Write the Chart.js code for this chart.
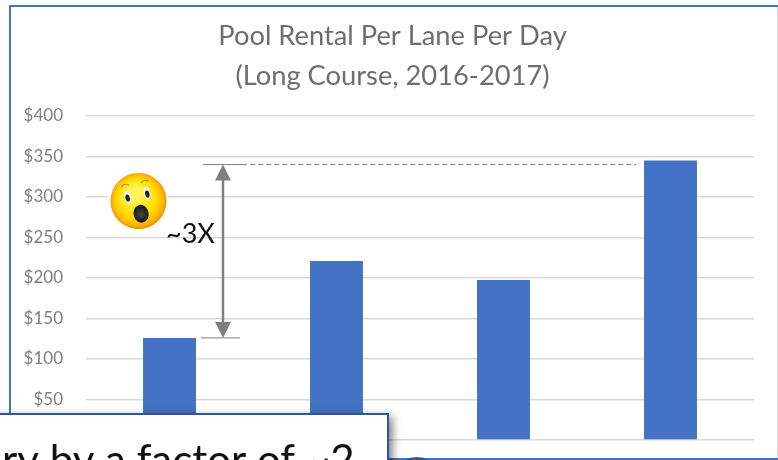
<!DOCTYPE html>
<html><head><meta charset="utf-8">
<style>html,body{margin:0;padding:0;background:#fff;overflow:hidden}canvas{display:block;width:778px;height:460px;filter:blur(.35px)}</style>
<script src="https://cdn.jsdelivr.net/npm/chart.js@4/dist/chart.umd.min.js"></script>
</head><body><canvas id="c" width="778" height="460"></canvas>
<script>
const categories = ["", "", "", ""];
const rentalPerLane = [126, 221, 197.5, 345];
const yTicks = [0, 50, 100, 150, 200, 250, 300, 350, 400];
const titleLines = ["Pool Rental Per Lane Per Day", "(Long Course, 2016-2017)"];
const arrowTopValue = 340;
const arrowBottomValue = 126;
const ratioLabel = "~3X";
const calloutText = "ry by a factor of ~2";
const FONT = "Lato, 'Open Sans', sans-serif";
const PLOT_BOTTOM = 440;

function line(ctx, x1, y1, x2, y2) { ctx.beginPath(); ctx.moveTo(x1, y1); ctx.lineTo(x2, y2); ctx.stroke(); }

const fixBottom = { id: 'fixBottom', afterLayout(chart) {
  const a = chart.chartArea;
  a.bottom = PLOT_BOTTOM; a.height = PLOT_BOTTOM - a.top;
  for (const s of [chart.scales.y, chart.scales.y2]) {
    s.bottom = PLOT_BOTTOM; s.height = PLOT_BOTTOM - s.top;
    s.configure();
  }
}};

const backdrop = { id: 'backdrop', beforeDraw(chart) {
  const ctx = chart.ctx; ctx.save();
  ctx.strokeStyle = '#4472c4'; ctx.lineWidth = 2;
  ctx.beginPath(); ctx.moveTo(10, 460); ctx.lineTo(10, 6); ctx.lineTo(778, 6); ctx.stroke();
  ctx.strokeStyle = '#dcdcdc'; ctx.lineWidth = 1; line(ctx, 777.5, 7, 777.5, 458);
  ctx.restore();
}};

const overlay = { id: 'overlay', afterDraw(chart) {
  const ctx = chart.ctx, y = chart.scales.y; ctx.save();
  const yT = y.getPixelForValue(arrowTopValue), yB = y.getPixelForValue(arrowBottomValue);
  const ax = 223;
  ctx.strokeStyle = '#7f7f7f'; ctx.fillStyle = '#7f7f7f';
  ctx.lineWidth = 1; line(ctx, 203, yT, 242, yT); line(ctx, 201, yB, 240, yB);
  ctx.setLineDash([5, 3]); line(ctx, 242, yT, 636, yT); ctx.setLineDash([]);
  ctx.lineWidth = 2.5; line(ctx, ax, yT + 10, ax, yB - 10);
  ctx.beginPath(); ctx.moveTo(ax, yT); ctx.lineTo(ax + 8, yT + 16); ctx.lineTo(ax - 8, yT + 16); ctx.fill();
  ctx.beginPath(); ctx.moveTo(ax, yB); ctx.lineTo(ax + 8, yB - 16); ctx.lineTo(ax - 8, yB - 16); ctx.fill();

  // emoji
  ctx.fillStyle = '#fff';
  ctx.beginPath(); ctx.moveTo(157, 165); ctx.lineTo(175, 215); ctx.lineTo(120, 237); ctx.lineTo(103, 182); ctx.fill();
  const ex = 138.5, ey = 201;
  ctx.save(); ctx.translate(ex, ey); ctx.rotate(-0.2);
  const g = ctx.createRadialGradient(-3, -8, 6, 0, 0, 29);
  g.addColorStop(0, '#fff35a'); g.addColorStop(0.55, '#ffdf00'); g.addColorStop(0.85, '#fdb400'); g.addColorStop(1, '#ee7c10');
  ctx.fillStyle = g; ctx.beginPath(); ctx.arc(0, 0, 28, 0, Math.PI * 2); ctx.fill();
  for (const dx of [-10, 10]) {
    ctx.fillStyle = '#f7f4e6'; ctx.beginPath(); ctx.ellipse(dx, -6, 3.5, 6.5, 0, 0, Math.PI * 2); ctx.fill();
    ctx.fillStyle = '#222'; ctx.beginPath(); ctx.ellipse(dx, -5, 2.2, 3.6, 0, 0, Math.PI * 2); ctx.fill();
    ctx.strokeStyle = '#b88a20'; ctx.lineWidth = 1; ctx.beginPath(); ctx.arc(dx, -14, 5, Math.PI * 1.2, Math.PI * 1.8); ctx.stroke();
  }
  const m = ctx.createRadialGradient(0, 14, 1, 0, 13, 9);
  m.addColorStop(0, '#444'); m.addColorStop(1, '#111');
  ctx.fillStyle = m; ctx.beginPath(); ctx.ellipse(0, 13, 7.5, 9, 0, 0, Math.PI * 2); ctx.fill();
  ctx.restore();

  ctx.fillStyle = '#111'; ctx.font = '27px ' + FONT; ctx.textAlign = 'left'; ctx.textBaseline = 'alphabetic';
  ctx.fillText(ratioLabel, 166, 243);

  // bottom frame and red shape
  ctx.strokeStyle = '#4472c4'; ctx.lineWidth = 2; line(ctx, 388, 459, 778, 459);
  ctx.save(); ctx.beginPath(); ctx.rect(388, 440, 390, 20); ctx.clip();
  ctx.fillStyle = '#d0202a'; ctx.strokeStyle = '#2f5597'; ctx.lineWidth = 2;
  ctx.beginPath(); ctx.arc(417, 481, 23, 0, Math.PI * 2); ctx.fill(); ctx.stroke();
  ctx.restore();

  // callout
  ctx.save(); ctx.shadowColor = 'rgba(0,0,0,.55)'; ctx.shadowBlur = 9; ctx.shadowOffsetX = 5; ctx.shadowOffsetY = 3;
  ctx.fillStyle = '#fff'; ctx.fillRect(-20, 414, 407, 70); ctx.restore();
  ctx.strokeStyle = '#2f5597'; ctx.lineWidth = 2; ctx.strokeRect(-20, 414, 408, 70);
  ctx.fillStyle = '#111'; ctx.font = '42px ' + FONT; ctx.fillText(calloutText, 2, 475);
  ctx.restore();
}};

new Chart(document.getElementById('c'), {
  type: 'bar',
  data: { labels: categories, datasets: [{ data: rentalPerLane, yAxisID: 'y', backgroundColor: '#4472c4', barPercentage: 0.317, categoryPercentage: 1 }] },
  plugins: [fixBottom, backdrop, overlay],
  options: {
    responsive: false, animation: false, devicePixelRatio: 1,
    layout: { autoPadding: false, padding: { left: 20, right: 13, top: 0, bottom: 20 } },
    plugins: {
      legend: { display: false }, tooltip: { enabled: false },
      title: { display: true, text: titleLines, color: '#6e6e6e', font: { family: FONT, size: 27.3, weight: 'normal', lineHeight: 1.465 }, padding: { top: 16, bottom: 20 } }
    },
    scales: {
      x: {
        afterFit(s) { s.height = 0; },
        grid: { display: false }, border: { display: false }, ticks: { display: false }
      },
      y2: {
        position: 'right', min: 0, max: 400,
        afterFit(s) { s.width = 11; },
        grid: { display: false }, border: { display: false }, ticks: { display: false }
      },
      y: {
        position: 'left', min: 0, max: 400,
        afterFit(s) { s.width = 66; },
        afterBuildTicks(s) { s.ticks = yTicks.map(v => ({ value: v })); },
        border: { display: false },
        grid: { color: '#d9d9d9', lineWidth: 1.5, drawTicks: false },
        ticks: { padding: 23, color: '#7f7f7f', font: { family: FONT, size: 17 }, callback: v => v === 0 ? '' : '$' + v }
      }
    }
  }
});
</script></body></html>
